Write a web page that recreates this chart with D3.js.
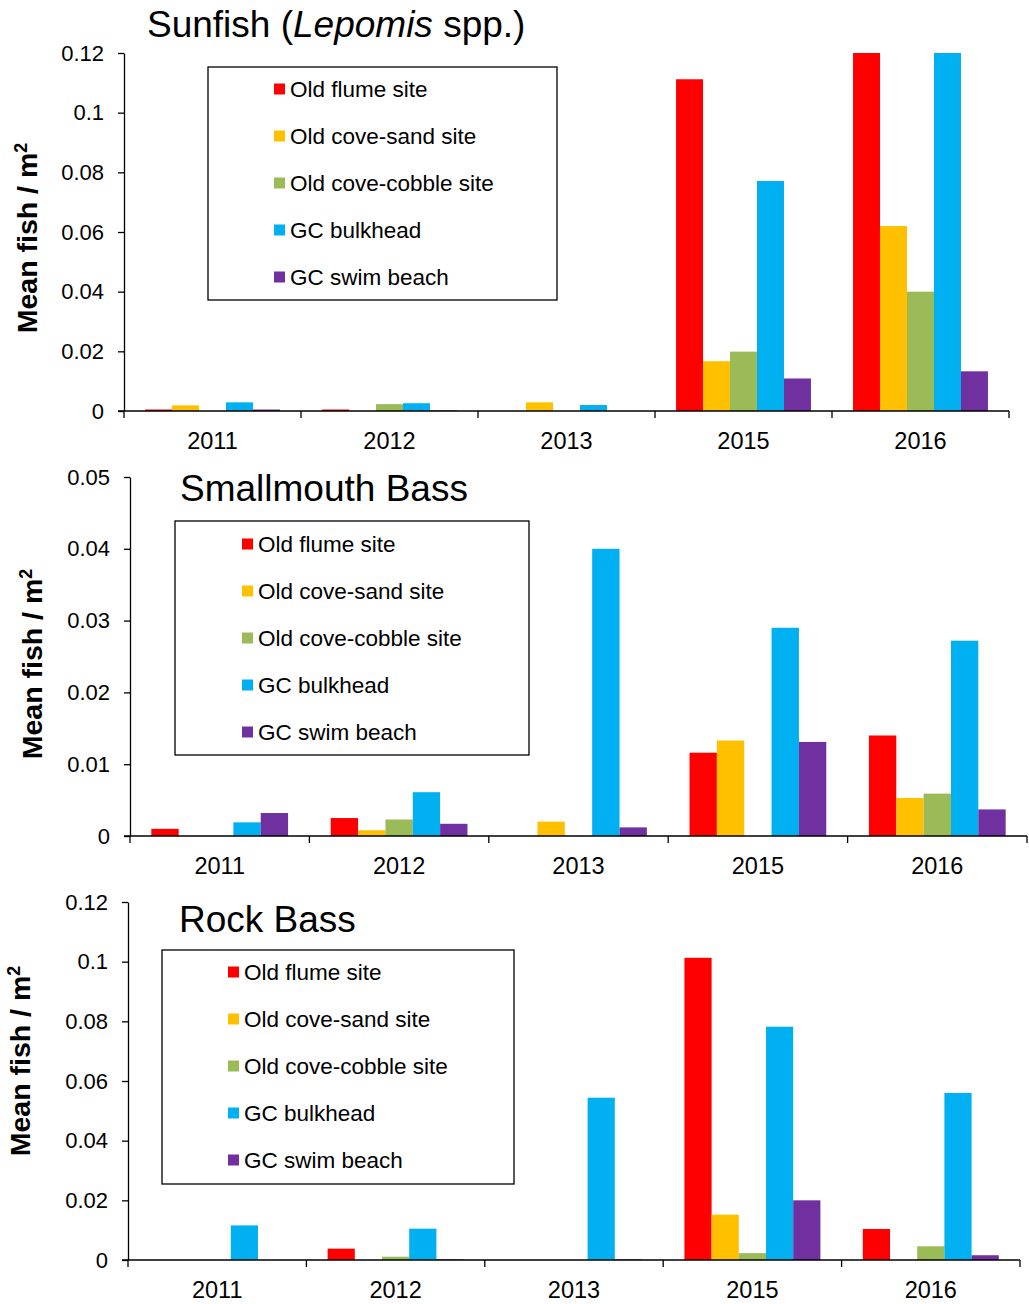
<!DOCTYPE html>
<html>
<head>
<meta charset="utf-8">
<script src="https://cdn.jsdelivr.net/npm/d3@7"></script>
<style>
  body { margin: 0; background: #fff; }
  svg { display: block; font-family: "Liberation Sans", Arial, sans-serif; }
</style>
</head>
<body>
<div id="chart"></div>
<script>
// data (mean fish / m2), one row per year, one value per site
const years = ["2011", "2012", "2013", "2015", "2016"];
const sites = ["Old flume site", "Old cove-sand site", "Old cove-cobble site", "GC bulkhead", "GC swim beach"];
const siteColors = ["#FF0000", "#FFC000", "#9BBB59", "#00B0F0", "#7030A0"];

const sunfish = [
  [0.0005, 0.0019, 0, 0.0029, 0.0005],
  [0.0005, 0, 0.0023, 0.0026, 0.0002],
  [0, 0.0029, 0, 0.0020, 0],
  [0.1112, 0.0167, 0.0199, 0.0771, 0.0109],
  [0.1200, 0.0620, 0.0400, 0.1200, 0.0133]
];
const smallmouth = [
  [0.0010, 0, 0, 0.0019, 0.0032],
  [0.0025, 0.0008, 0.0023, 0.0061, 0.0017],
  [0, 0.0020, 0, 0.0400, 0.0012],
  [0.0116, 0.0133, 0, 0.0290, 0.0131],
  [0.0140, 0.0053, 0.0059, 0.0272, 0.0037]
];
const rockBass = [
  [0, 0, 0, 0.0116, 0],
  [0.0038, 0, 0.0011, 0.0105, 0.0002],
  [0, 0, 0, 0.0544, 0.0002],
  [0.1013, 0.0152, 0.0023, 0.0782, 0.0200],
  [0.0104, 0, 0.0046, 0.0560, 0.0016]
];

const ticks012 = [0, 0.02, 0.04, 0.06, 0.08, 0.1, 0.12];
const ticks005 = [0, 0.01, 0.02, 0.03, 0.04, 0.05];

// layout of the three stacked panels
const panels = [
  { values: sunfish, ticks: ticks012, yMax: 0.12,
    left: 124, right: 1009, top: 53, zero: 411,
    title: ["Sunfish (", "Lepomis", " spp.)"], titleX: 147, titleY: 37,
    box: [208, 67, 557, 300], swX: 274, itemY: 89,
    labX: 27, labY: 238 },
  { values: smallmouth, ticks: ticks005, yMax: 0.05,
    left: 130, right: 1027, top: 477, zero: 836,
    title: ["Smallmouth Bass"], titleX: 180, titleY: 501,
    box: [175, 521, 529, 755], swX: 242, itemY: 544,
    labX: 32, labY: 664 },
  { values: rockBass, ticks: ticks012, yMax: 0.12,
    left: 128, right: 1020, top: 902, zero: 1260,
    title: ["Rock Bass"], titleX: 179, titleY: 932,
    box: [162, 950, 514, 1184], swX: 228, itemY: 972,
    labX: 20, labY: 1061 }
];

const fmt = d => d === 0 ? "0" : String(+d.toFixed(2));

const svg = d3.select("#chart").append("svg")
    .attr("width", 1029)
    .attr("height", 1304);

panels.forEach(p => {
  const g = svg.append("g");

  const x0 = d3.scaleBand().domain(years).range([p.left, p.right]);
  const x1 = d3.scaleBand().domain(d3.range(sites.length))
      .range([0, x0.bandwidth()]).paddingOuter(0.78);
  const y = d3.scaleLinear().domain([0, p.yMax]).range([p.zero, p.top]).clamp(true);

  // bars
  const yearG = g.selectAll("g.year")
    .data(p.values)
    .enter().append("g")
      .attr("class", "year")
      .attr("transform", (d, i) => "translate(" + x0(years[i]) + ",0)");
  yearG.selectAll("rect")
    .data(d => d)
    .enter().append("rect")
      .attr("x", (d, j) => x1(j))
      .attr("width", x1.bandwidth())
      .attr("y", d => y(d))
      .attr("height", d => p.zero - y(d))
      .attr("fill", (d, j) => siteColors[j]);

  // y axis
  const yAxis = g.append("g")
      .attr("transform", "translate(" + p.left + ",0)")
      .call(d3.axisLeft(y).tickValues(p.ticks).tickFormat(fmt)
        .tickSize(6).tickSizeOuter(0).tickPadding(14));
  yAxis.selectAll("line, path").attr("stroke", "#000").attr("stroke-width", 1.3);
  yAxis.selectAll("text").attr("font-size", 22).attr("fill", "#000")
      .attr("font-family", "Liberation Sans, Arial, sans-serif");

  // x axis: baseline, boundary ticks, centred year labels
  g.append("line")
      .attr("x1", p.left - 6).attr("x2", p.right)
      .attr("y1", p.zero).attr("y2", p.zero)
      .attr("stroke", "#000").attr("stroke-width", 1.3);
  const bounds = years.map(d => x0(d)).concat([p.right]);
  g.selectAll("line.xt")
    .data(bounds)
    .enter().append("line")
      .attr("class", "xt")
      .attr("x1", d => d).attr("x2", d => d)
      .attr("y1", p.zero).attr("y2", p.zero + 7)
      .attr("stroke", "#000").attr("stroke-width", 1.3);
  g.selectAll("text.xl")
    .data(years)
    .enter().append("text")
      .attr("class", "xl")
      .attr("x", d => x0(d) + x0.bandwidth() / 2)
      .attr("y", p.zero + 38)
      .attr("text-anchor", "middle")
      .attr("font-size", 23.5)
      .text(d => d);

  // y label
  const lab = g.append("text")
      .attr("transform", "translate(" + p.labX + "," + p.labY + ") rotate(-90)")
      .attr("text-anchor", "middle")
      .attr("dy", "0.35em")
      .attr("font-size", 28.5)
      .attr("font-weight", "bold");
  lab.append("tspan").text("Mean fish / m");
  lab.append("tspan").attr("font-size", 18).attr("dy", "-0.55em").text("2");

  // title
  const t = g.append("text")
      .attr("x", p.titleX).attr("y", p.titleY)
      .attr("font-size", 37);
  p.title.forEach((s, i) => {
    t.append("tspan").attr("font-style", i === 1 ? "italic" : "normal").text(s);
  });

  // legend
  const [bx0, by0, bx1, by1] = p.box;
  g.append("rect")
      .attr("x", bx0).attr("y", by0)
      .attr("width", bx1 - bx0).attr("height", by1 - by0)
      .attr("fill", "#fff").attr("stroke", "#000").attr("stroke-width", 1.3);
  const items = g.selectAll("g.leg")
    .data(sites)
    .enter().append("g")
      .attr("class", "leg")
      .attr("transform", (d, i) => "translate(" + p.swX + "," + (p.itemY + i * 47) + ")");
  items.append("rect")
      .attr("x", 0).attr("y", -5.5)
      .attr("width", 11).attr("height", 11)
      .attr("fill", (d, i) => siteColors[i]);
  items.append("text")
      .attr("x", 16).attr("y", 8)
      .attr("font-size", 22.5)
      .text(d => d);
});
</script>
</body>
</html>
